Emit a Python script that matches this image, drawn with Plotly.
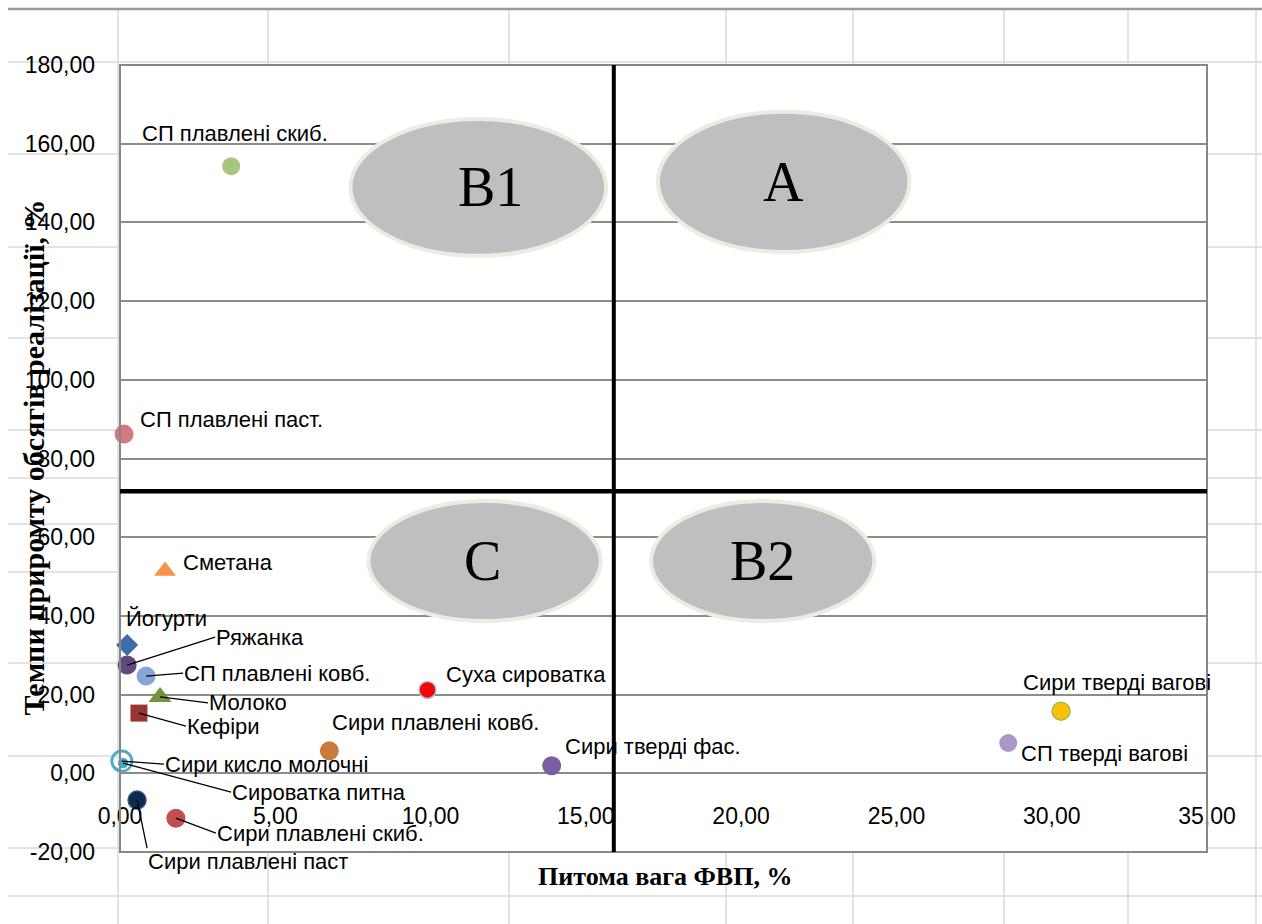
import plotly.graph_objects as go

# ---------------- data ----------------
labels = [
    "СП плавлені скиб.", "СП плавлені паст.", "Сметана", "Йогурти", "Ряжанка",
    "СП плавлені ковб.", "Молоко", "Кефіри", "Суха сироватка", "Сири плавлені ковб.",
    "Сири тверді фас.", "Сири тверді вагові", "СП тверді вагові", "Сири кисло молочні",
    "Сироватка питна", "Сири плавлені паст", "Сири плавлені скиб.",
]
share = [3.58, 0.13, 1.45, 0.23, 0.23, 0.84, 1.29, 0.61, 9.90, 6.74,
         13.90, 30.30, 28.60, 0.06, 0.10, 0.55, 1.80]
growth = [154.3, 86.2, 51.4, 32.6, 27.5, 24.7, 19.4, 15.3, 21.2, 5.7,
          1.9, 15.8, 7.7, 3.1, 2.6, -6.8, -11.4]

x_ticks = [0, 5, 10, 15, 20, 25, 30, 35]
y_ticks = [-20, 0, 20, 40, 60, 80, 100, 120, 140, 160, 180]

quad_x = 15.9   # dividing line (share)
quad_y = 71.7   # dividing line (growth)

quadrants = ["B1", "A", "C", "B2"]
quad_boxes = {   # x0, x1, y0, y1 of the ellipses
    "B1": (7.42, 15.65, 131.5, 166.3),
    "A": (17.32, 25.42, 132.5, 168.1),
    "C": (8.0, 15.48, 38.7, 69.2),
    "B2": (17.1, 24.29, 38.7, 69.2),
}


def fmt(v):
    return f"{v:.2f}".replace(".", ",")


# ---------------- styles ----------------
style = {
    "СП плавлені скиб.": ("circle", "#A9C47F", None, 18),
    "СП плавлені паст.": ("circle", "#D27B7C", None, 19),
    "Сметана": ("triangle-up", "#F59447", None, 19),
    "Йогурти": ("diamond", "#3C6EA8", None, 17),
    "Ряжанка": ("circle", "#604A7B", None, 19),
    "СП плавлені ковб.": ("circle", "#87A6D8", None, 19),
    "Молоко": ("triangle-up", "#76923C", None, 20),
    "Кефіри": ("square", "#963634", None, 17),
    "Суха сироватка": ("circle", "#FF0000", "#9DC3E6", 17),
    "Сири плавлені ковб.": ("circle", "#C87B3A", None, 19),
    "Сири тверді фас.": ("circle", "#7B5EA0", None, 19),
    "Сири тверді вагові": ("circle", "#FFC000", "#9BBB59", 18),
    "СП тверді вагові": ("circle", "#A898C6", None, 18),
    "Сири кисло молочні": ("circle-open", "#4BACC6", None, 20),
    "Сироватка питна": ("circle", "#3FB0CC", "#FFFFFF", 12),
    "Сири плавлені паст": ("circle", "#13294B", "#2E5A8A", 18),
    "Сири плавлені скиб.": ("circle", "#C0504D", None, 19),
}

# label placement: (mode, dx, dy, xanchor, yanchor)  -- pixel offsets
label_pos = {
    "СП плавлені скиб.": ("text", -91, 33, "left", "middle"),
    "СП плавлені паст.": ("text", 14, 15, "left", "middle"),
    "Сметана": ("text", 16, 9, "left", "middle"),
    "Йогурти": ("text", -3, 27, "left", "middle"),
    "Ряжанка": ("arrow", 88, -28, "left", "middle"),
    "СП плавлені ковб.": ("arrow", 37, -3, "left", "middle"),
    "Молоко": ("arrow", 48, 6, "left", "middle"),
    "Кефіри": ("arrow", 47, 13, "left", "middle"),
    "Суха сироватка": ("text", 17, 15, "left", "middle"),
    "Сири плавлені ковб.": ("text", 1, 28, "left", "middle"),
    "Сири тверді фас.": ("text", 11, 19, "left", "middle"),
    "Сири тверді вагові": ("text", -40, 29, "left", "middle"),
    "СП тверді вагові": ("text", 11, -10, "left", "middle"),
    "Сири кисло молочні": ("arrow", 42, 3, "left", "middle"),
    "Сироватка питна": ("arrow", 108, 29, "left", "middle"),
    "Сири плавлені паст": ("arrow", 10, 48, "left", "top"),
    "Сири плавлені скиб.": ("arrow", 40, 15, "left", "middle"),
}

W, H = 1262, 924
ML, MR, MT, MB = 120, 55, 65, 72
PW, PH = W - ML - MR, H - MT - MB


def px(xp):
    return (xp - ML) / PW


def py(yp):
    return (H - MB - yp) / PH


LABEL_FONT = dict(family="Liberation Sans, Arial, sans-serif", size=22, color="#000000")
TICK_FONT = dict(family="Liberation Sans, Arial, sans-serif", size=23, color="#000000")
TITLE_FONT = dict(family="Liberation Serif, Times New Roman, serif", size=26, color="#000000")
YTITLE_FONT = dict(family="Liberation Serif, Times New Roman, serif", size=30, color="#000000")

fig = go.Figure()

for lab, xv, yv in zip(labels, share, growth):
    sym, col, edge, size = style[lab]
    if sym == "circle-open":
        marker = dict(symbol=sym, size=size, color=col, line=dict(width=3, color=col))
    else:
        marker = dict(symbol=sym, size=size, color=col,
                      line=dict(width=1.5 if edge else 0, color=edge or col))
    fig.add_trace(go.Scatter(x=[xv], y=[yv], mode="markers", marker=marker,
                             showlegend=False, hoverinfo="skip", cliponaxis=False))

annotations = []
for lab, xv, yv in zip(labels, share, growth):
    mode, dx, dy, xa, ya = label_pos[lab]
    if mode == "text":
        annotations.append(dict(x=xv, y=yv, xref="x", yref="y", text=lab, showarrow=False,
                                xanchor=xa, yanchor=ya, xshift=dx, yshift=dy, font=LABEL_FONT))
    else:
        annotations.append(dict(x=xv, y=yv, xref="x", yref="y", text=lab, showarrow=True,
                                arrowhead=0, arrowwidth=1.3, arrowcolor="#000000", standoff=0,
                                ax=dx, ay=dy, xanchor=xa, yanchor=ya, font=LABEL_FONT,
                                borderpad=0))

# quadrant letters
letter_shift = {"B1": (12, 0), "A": (0, 0), "C": (-2, 0), "B2": (0, 0)}
for q in quadrants:
    x0, x1, y0, y1 = quad_boxes[q]
    sx, sy = letter_shift[q]
    annotations.append(dict(x=(x0 + x1) / 2, y=(y0 + y1) / 2, xref="x", yref="y", text=q,
                            showarrow=False, xshift=sx, yshift=sy,
                            font=dict(family="Liberation Serif, Times New Roman, serif",
                                      size=56, color="#000000")))

# axis titles
annotations.append(dict(x=px(14), y=py(458), xref="paper", yref="paper",
                        text="<b>Темпи приромту обсягів реалізації, %</b>", textangle=-90,
                        showarrow=False, font=YTITLE_FONT))
annotations.append(dict(x=px(665), y=py(893), xref="paper", yref="paper",
                        text="<b>Питома вага ФВП, %</b>",
                        showarrow=False, font=TITLE_FONT))

shapes = []
# spreadsheet background grid
col_lines = [118, 268, 509, 726, 853, 1004, 1128, 1256]
row_lines = [62, 154, 247, 338, 430, 478, 524, 572, 663, 756, 848, 896]
for c in col_lines:
    shapes.append(dict(type="line", xref="paper", yref="paper", x0=px(c), x1=px(c),
                       y0=py(9), y1=py(924), line=dict(color="#DADADA", width=1.5), layer="below"))
for r in row_lines:
    shapes.append(dict(type="line", xref="paper", yref="paper", x0=px(8), x1=px(1262),
                       y0=py(r), y1=py(r), line=dict(color="#DADADA", width=1.5), layer="below"))
shapes.append(dict(type="line", xref="paper", yref="paper", x0=px(8), x1=px(1262),
                   y0=py(9), y1=py(9), line=dict(color="#9A9A9A", width=2.5), layer="below"))
# white plot area covering the sheet grid
shapes.append(dict(type="rect", xref="paper", yref="paper", x0=0, x1=1, y0=0, y1=1,
                   fillcolor="#FFFFFF", line=dict(width=0), layer="below"))
# plot frame
shapes.append(dict(type="rect", xref="paper", yref="paper", x0=0, x1=1, y0=0, y1=1,
                   line=dict(color="#878787", width=2), layer="above"))
# ellipses
for q in quadrants:
    x0, x1, y0, y1 = quad_boxes[q]
    shapes.append(dict(type="circle", xref="x", yref="y", x0=x0, x1=x1, y0=y0, y1=y1,
                       fillcolor="#BFBFBF", line=dict(color="#EEECE1", width=4), layer="above"))
# dividing lines
shapes.append(dict(type="line", xref="x", yref="y", x0=quad_x, x1=quad_x, y0=-20, y1=180.6,
                   line=dict(color="#000000", width=4), layer="above"))
shapes.append(dict(type="line", xref="x", yref="y", x0=0, x1=35, y0=quad_y, y1=quad_y,
                   line=dict(color="#000000", width=4.5), layer="above"))

fig.update_layout(
    width=W, height=H, autosize=False,
    margin=dict(l=ML, r=MR, t=MT, b=MB, pad=0),
    paper_bgcolor="#FFFFFF", plot_bgcolor="rgba(0,0,0,0)",
    xaxis=dict(range=[0, 35], tickvals=x_ticks, ticktext=[fmt(v) for v in x_ticks],
               showgrid=False, zeroline=False, showline=False, ticks="", anchor="free",
               position=py(772), ticklabelstandoff=28, tickfont=TICK_FONT, fixedrange=True),
    yaxis=dict(range=[-20, 180], tickvals=y_ticks, ticktext=[fmt(v) for v in y_ticks],
               showgrid=True, gridcolor="#8C8C8C", gridwidth=1.5, zeroline=True,
               zerolinecolor="#8C8C8C", zerolinewidth=1.5, showline=False, ticks="",
               ticklabelstandoff=24, tickfont=TICK_FONT, fixedrange=True),
    annotations=annotations,
    shapes=shapes,
)

fig.write_html("out.html")
